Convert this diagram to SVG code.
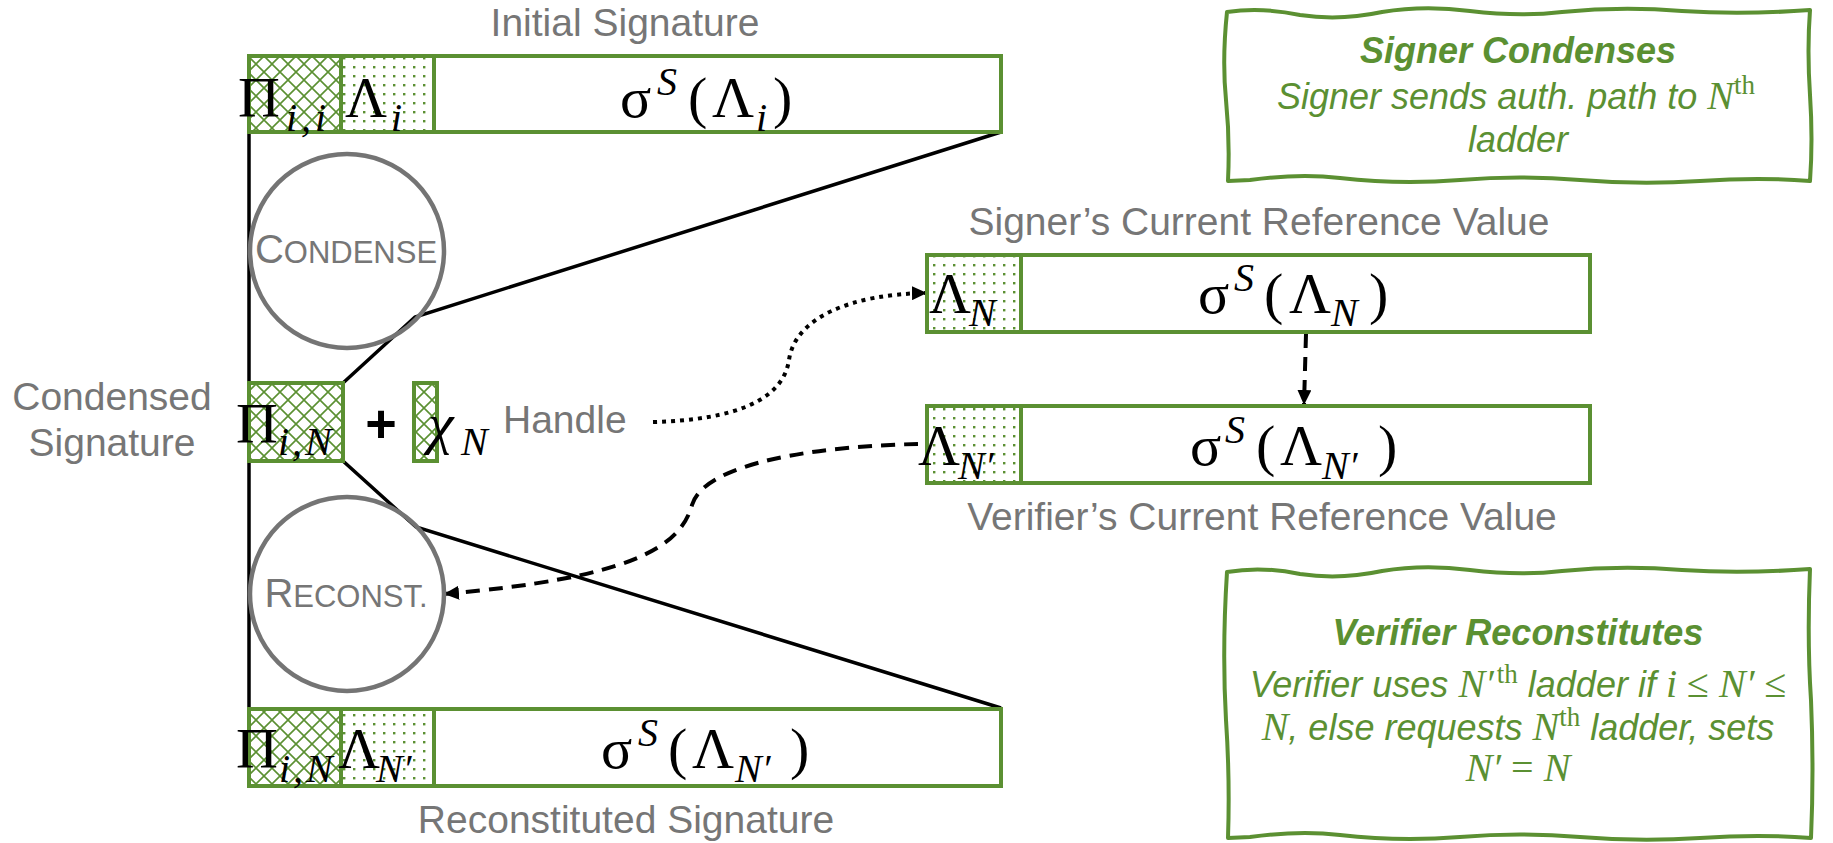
<svg xmlns="http://www.w3.org/2000/svg" width="1833" height="843" viewBox="0 0 1833 843">
<style>
.lbl{font-family:"Liberation Sans",Arial,sans-serif;font-size:39px;fill:#767676}
.m{font-family:"Liberation Serif","Times New Roman",serif;font-size:58px;fill:#000}
.s{font-family:"Liberation Serif","Times New Roman",serif;font-size:40px;font-style:italic;fill:#000}
.cell{stroke:#5b9032;stroke-width:4}
.bar{fill:#fff;stroke:#5b9032;stroke-width:4}
.circ{fill:none;stroke:#747474;stroke-width:4.5}
.sc{font-family:"Liberation Sans",Arial,sans-serif;fill:#767676}
.ln{fill:none;stroke:#000;stroke-width:3.5}
.note{fill:#fff;stroke:#5b9032;stroke-width:4;stroke-linejoin:round}
.nt{font-family:"Liberation Sans",Arial,sans-serif;font-size:36px;font-style:italic;fill:#5b9032}
.nm{font-family:"Liberation Serif","Times New Roman",serif;font-style:italic;font-size:40px}
.nu{font-family:"Liberation Serif","Times New Roman",serif;font-style:normal;font-size:40px}
.sup{font-family:"Liberation Serif","Times New Roman",serif;font-style:normal;font-size:27px}
.con{fill:none;stroke:#000;stroke-width:4}
</style>
<defs>
<pattern id="hatch" width="16" height="16" patternUnits="userSpaceOnUse">
<rect width="16" height="16" fill="#fff"/>
<path d="M0,0 L16,16 M16,0 L0,16" stroke="#5b9032" stroke-width="1.6"/>
</pattern>
<pattern id="dots" width="10" height="9" patternUnits="userSpaceOnUse">
<rect width="10" height="9" fill="#fff"/>
<rect x="3" y="3" width="2.4" height="2.4" fill="#5b9032"/>
</pattern>
<marker id="ah" markerUnits="userSpaceOnUse" markerWidth="16" markerHeight="14" refX="15" refY="7" orient="auto">
<path d="M0,0 L15,7 L0,14 z" fill="#000"/>
</marker>
</defs>
<rect width="1833" height="843" fill="#fff"/>

<g id="connectors">
<path class="ln" d="M249,132 L249,709"/>
<path class="ln" d="M343,383 L415,317 L1001,132"/>
<path class="ln" d="M343,461 L416,527 L1001,708"/>
<path class="con" d="M653,422 C735,420 783,400 789,360 C795,318 850,294 927,293" stroke-dasharray="4 5" marker-end="url(#ah)"/>
<path class="con" d="M1306,334 L1304,405" stroke-dasharray="14 9" marker-end="url(#ah)"/>
<path class="con" d="M918,444 C820,446 705,462 692,505 C680,548 630,578 444,594" stroke-dasharray="14 9" marker-end="url(#ah)"/>
</g>

<g id="initial-signature">
<text class="lbl" x="625" y="36" text-anchor="middle">Initial Signature</text>
<rect class="bar" x="249" y="56" width="752" height="76"/>
<rect class="cell" x="249" y="56" width="92" height="76" fill="url(#hatch)"/>
<rect class="cell" x="341" y="56" width="93" height="76" fill="url(#dots)"/>
<text class="m" x="238" y="117">Π</text>
<text class="s" x="286" y="131" letter-spacing="4">i,i</text>
<text class="m" x="345" y="117">Λ</text>
<text class="s" x="391" y="131">i</text>
<text class="m" x="620" y="117">σ</text>
<text class="s" x="657" y="95">S</text>
<text class="m" x="688" y="117">(</text>
<text class="m" x="712" y="117">Λ</text>
<text class="s" x="756" y="131">i</text>
<text class="m" x="773" y="117">)</text>
</g>

<g id="condense">
<circle class="circ" cx="347" cy="251" r="97"/>
<text class="sc" x="346" y="263" text-anchor="middle"><tspan font-size="40">C</tspan><tspan font-size="31">ONDENSE</tspan></text>
</g>

<g id="condensed-signature">
<text class="lbl" x="112" y="410" text-anchor="middle">Condensed</text>
<text class="lbl" x="112" y="456" text-anchor="middle">Signature</text>
<rect class="cell" x="249" y="383" width="94" height="78" fill="url(#hatch)"/>
<rect class="cell" x="414" y="383" width="23" height="78" fill="url(#hatch)"/>
<text class="m" x="236" y="443">Π</text>
<text class="s" x="278" y="455" letter-spacing="3">i,N</text>
<text x="381" y="442" text-anchor="middle" font-family="Liberation Sans,Arial,sans-serif" font-size="54" font-weight="bold" fill="#000">+</text>
<text class="m" x="428" y="443" font-size="62" font-style="italic">χ</text>
<text class="s" x="461" y="455">N</text>
<text class="lbl" x="503" y="433">Handle</text>
</g>

<g id="signer-reference">
<text class="lbl" x="1259" y="235" text-anchor="middle">Signer’s Current Reference Value</text>
<rect class="bar" x="927" y="255" width="663" height="77"/>
<rect class="cell" x="927" y="255" width="94" height="77" fill="url(#dots)"/>
<text class="m" x="929" y="313">Λ</text>
<text class="s" x="969" y="326">N</text>
<text class="m" x="1198" y="313">σ</text>
<text class="s" x="1234" y="291">S</text>
<text class="m" x="1264" y="313">(</text>
<text class="m" x="1289" y="313">Λ</text>
<text class="s" x="1331" y="326">N</text>
<text class="m" x="1369" y="313">)</text>
</g>

<g id="verifier-reference">
<rect class="bar" x="927" y="406" width="663" height="77"/>
<rect class="cell" x="927" y="406" width="94" height="77" fill="url(#dots)"/>
<text class="m" x="918" y="465">Λ</text>
<text class="s" x="958" y="479">N′</text>
<text class="m" x="1190" y="465">σ</text>
<text class="s" x="1225" y="443">S</text>
<text class="m" x="1256" y="465">(</text>
<text class="m" x="1280" y="465">Λ</text>
<text class="s" x="1322" y="479">N′</text>
<text class="m" x="1378" y="465">)</text>
<text class="lbl" x="1262" y="530" text-anchor="middle">Verifier’s Current Reference Value</text>
</g>

<g id="reconst">
<circle class="circ" cx="347" cy="594" r="97"/>
<text class="sc" x="346" y="607" text-anchor="middle"><tspan font-size="40">R</tspan><tspan font-size="31">ECONST.</tspan></text>
</g>

<g id="reconstituted-signature">
<rect class="bar" x="249" y="709" width="752" height="77"/>
<rect class="cell" x="249" y="709" width="92" height="77" fill="url(#hatch)"/>
<rect class="cell" x="341" y="709" width="93" height="77" fill="url(#dots)"/>
<text class="m" x="236" y="768">Π</text>
<text class="s" x="279" y="782" letter-spacing="3">i,N</text>
<text class="m" x="338" y="768">Λ</text>
<text class="s" x="376" y="782">N′</text>
<text class="m" x="601" y="768">σ</text>
<text class="s" x="638" y="746">S</text>
<text class="m" x="668" y="768">(</text>
<text class="m" x="692" y="768">Λ</text>
<text class="s" x="735" y="782">N′</text>
<text class="m" x="790" y="768">)</text>
<text class="lbl" x="626" y="833" text-anchor="middle">Reconstituted Signature</text>
</g>

<g id="signer-note">
<path class="note" d="M1227,12 Q1262,7 1300,15 Q1340,21 1382,12 Q1424,5 1470,11 Q1520,17 1562,12 Q1622,6 1682,11 Q1742,15 1810,10 Q1807,50 1810,95 Q1813,140 1810,181 Q1760,177 1700,181 Q1640,185 1580,180 Q1520,175 1460,180 Q1400,185 1340,178 Q1300,173 1250,180 L1228,181 Q1230,140 1226,100 Q1222,60 1227,12 Z"/>
<text class="nt" x="1518" y="63" text-anchor="middle" font-size="35" font-weight="bold">Signer Condenses</text>
<text class="nt" x="1516" y="109" text-anchor="middle">Signer sends auth. path to <tspan class="nm">N</tspan><tspan class="sup" dy="-15">th</tspan></text>
<text class="nt" x="1518" y="152" text-anchor="middle">ladder</text>
</g>

<g id="verifier-note">
<path class="note" d="M1227,572 Q1262,566 1300,574 Q1340,580 1382,571 Q1424,564 1470,570 Q1520,576 1562,571 Q1622,565 1682,570 Q1742,574 1810,569 Q1807,640 1811,700 Q1814,770 1811,838 Q1760,834 1700,838 Q1640,842 1580,837 Q1520,832 1460,837 Q1400,842 1340,835 Q1300,830 1250,837 L1228,838 Q1230,780 1226,720 Q1222,650 1227,572 Z"/>
<text class="nt" x="1518" y="645" text-anchor="middle" font-size="35" font-weight="bold">Verifier Reconstitutes</text>
<text class="nt" x="1518" y="697" text-anchor="middle">Verifier uses <tspan class="nm">N′</tspan><tspan class="sup" dx="3" dy="-14">th</tspan><tspan dy="14"> ladder if </tspan><tspan class="nm">i</tspan><tspan class="nu"> ≤ </tspan><tspan class="nm">N′</tspan><tspan class="nu"> ≤</tspan></text>
<text class="nt" x="1518" y="740" text-anchor="middle"><tspan class="nm">N</tspan>, else requests <tspan class="nm">N</tspan><tspan class="sup" dy="-14">th</tspan><tspan dy="14"> ladder, sets</tspan></text>
<text class="nt" x="1518" y="781" text-anchor="middle"><tspan class="nm">N′</tspan><tspan class="nu"> = </tspan><tspan class="nm">N</tspan></text>
</g>
</svg>
